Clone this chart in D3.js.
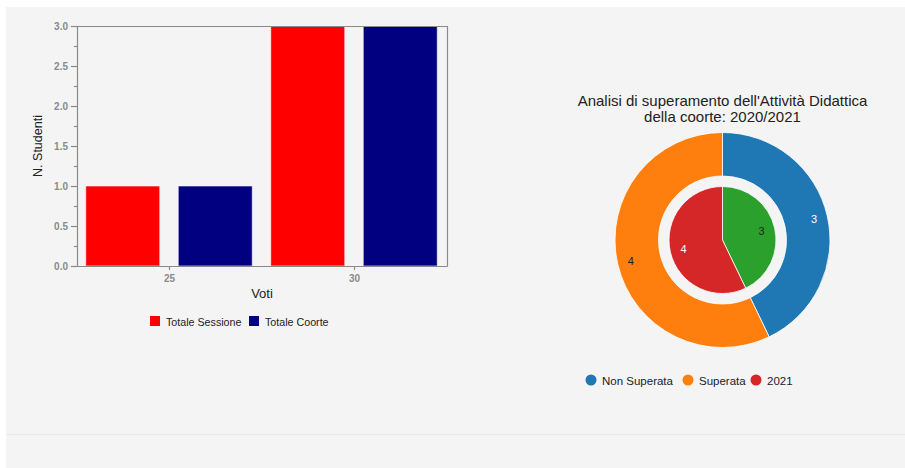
<!DOCTYPE html>
<html>
<head>
<meta charset="utf-8">
<script src="https://cdn.jsdelivr.net/npm/d3@7"></script>
<style>
  html, body { margin: 0; padding: 0; background: #fff; }
  svg { display: block; font-family: "Liberation Sans", Arial, sans-serif; }
</style>
</head>
<body>
<svg id="chart" width="905" height="468"></svg>
<script>
// Grade distribution (bar chart)
const voti = ["25", "30"];
const seriesNames = ["Totale Sessione", "Totale Coorte"];
const seriesColors = ["#ff0000", "#000080"];
const totaleSessione = [1, 3];
const totaleCoorte = [1, 3];
const yTicks = [0, 0.5, 1.0, 1.5, 2.0, 2.5, 3.0];

// Pass analysis (double donut)
const pieTitle = ["Analisi di superamento dell'Attività Didattica", "della coorte: 2020/2021"];
const outerLabels = ["Non Superata", "Superata"];
const outerValues = [3, 4];
const outerColors = ["#1f77b4", "#ff7f0e"];
const outerTextColors = ["#ffffff", "#222222"];
const innerLabels = ["2021 superati", "2021"];
const innerValues = [3, 4];
const innerColors = ["#2ca02c", "#d62728"];
const innerTextColors = ["#222222", "#ffffff"];
const legendItems = ["Non Superata", "Superata", "2021"];
const legendColors = ["#1f77b4", "#ff7f0e", "#d62728"];

const svg = d3.select("#chart");

// page panel
svg.append("rect").attr("x", 6).attr("y", 7).attr("width", 899).attr("height", 461).attr("fill", "#f4f4f4");
svg.append("line").attr("x1", 6).attr("x2", 905).attr("y1", 434.5).attr("y2", 434.5)
  .attr("stroke", "#e9e9e9").attr("stroke-width", 1);

// ---------- bar chart ----------
const plot = { left: 77, right: 447, top: 26, bottom: 266 };
const x0 = d3.scaleBand().domain(voti).range([plot.left, plot.right]).padding(0);
const x1 = d3.scaleBand().domain(seriesNames).range([0, x0.bandwidth()]).paddingInner(0.2).paddingOuter(0.1);
const y = d3.scaleLinear().domain([0, 3]).range([plot.bottom, plot.top]);

const barData = voti.map((v, i) => ({
  voto: v,
  values: [
    { name: seriesNames[0], value: totaleSessione[i], color: seriesColors[0] },
    { name: seriesNames[1], value: totaleCoorte[i], color: seriesColors[1] }
  ]
}));

const bars = svg.append("g");
bars.selectAll("g").data(barData).join("g")
  .attr("transform", d => `translate(${x0(d.voto) - 0.5},0)`)
  .selectAll("rect").data(d => d.values).join("rect")
  .attr("x", d => x1(d.name))
  .attr("y", d => y(d.value))
  .attr("width", x1.bandwidth())
  .attr("height", d => y(0) - y(d.value))
  .attr("fill", d => d.color)
  .attr("stroke", "#ffffff").attr("stroke-opacity", 0.6).attr("stroke-width", 1);

// frame (top and right)
svg.append("path")
  .attr("d", `M${plot.left},${plot.top + 0.5}H${plot.right + 0.5}V${plot.bottom}`)
  .attr("fill", "none").attr("stroke", "#8a8a8a").attr("stroke-width", 1.2);

// y axis with major and minor ticks
svg.append("g").attr("transform", `translate(${plot.left},0)`)
  .call(d3.axisLeft(y).tickValues(yTicks).tickFormat(d3.format(".1f")).tickSize(6).tickPadding(3));
svg.append("g").attr("transform", `translate(${plot.left},0)`)
  .call(d3.axisLeft(y).tickValues(d3.range(0.25, 3, 0.5)).tickFormat("").tickSize(3))
  .call(g => g.select(".domain").remove());

// x axis
svg.append("g").attr("transform", `translate(0,${plot.bottom})`)
  .call(d3.axisBottom(x0).tickSize(4).tickPadding(5).tickSizeOuter(0));

svg.selectAll(".domain, .tick line").attr("stroke", "#8a8a8a").attr("stroke-width", 1.2);
svg.selectAll(".tick text").attr("fill", "#8a8a8a").attr("font-size", 10).attr("font-weight", "bold")
  .attr("font-family", "'Liberation Sans', Arial, sans-serif");
// extend bottom axis across the 0.0 tick
svg.append("line").attr("x1", plot.left - 6).attr("x2", plot.right + 0.5)
  .attr("y1", plot.bottom + 0.5).attr("y2", plot.bottom + 0.5).attr("stroke", "#8a8a8a").attr("stroke-width", 1.2);

// axis titles
svg.append("text").attr("transform", `translate(42,${(plot.top + plot.bottom) / 2}) rotate(-90)`)
  .attr("text-anchor", "middle").attr("font-size", 12.5).attr("fill", "#222").text("N. Studenti");
svg.append("text").attr("x", (plot.left + plot.right) / 2).attr("y", 298)
  .attr("text-anchor", "middle").attr("font-size", 13).attr("fill", "#222").text("Voti");

// bar legend
const barLegend = svg.append("g").attr("transform", "translate(150,316)");
const blItems = barLegend.selectAll("g").data(seriesNames).join("g")
  .attr("transform", (d, i) => `translate(${i * 99},0)`);
blItems.append("rect").attr("width", 10).attr("height", 10).attr("fill", (d, i) => seriesColors[i]);
blItems.append("text").attr("x", 16).attr("y", 9.5).attr("font-size", 10.7).attr("fill", "#222").text(d => d);

// ---------- double donut ----------
const cx = 722.5, cy = 240;
const title = svg.append("text").attr("text-anchor", "middle").attr("font-size", 15).attr("fill", "#222");
pieTitle.forEach((t, i) => title.append("tspan").attr("x", cx).attr("y", 106 + i * 16).text(t));

const pie = d3.pie().sort(null).value(d => d.value);
const outerArc = d3.arc().innerRadius(64).outerRadius(107.5);
const outerLabelArc = d3.arc().innerRadius(94).outerRadius(94);
const innerArc = d3.arc().innerRadius(0).outerRadius(53.5);
const innerLabelArc = d3.arc().innerRadius(40).outerRadius(40);

const outerData = pie(outerLabels.map((l, i) => ({ label: l, value: outerValues[i], color: outerColors[i], text: outerTextColors[i] })));
const innerData = pie(innerLabels.map((l, i) => ({ label: l, value: innerValues[i], color: innerColors[i], text: innerTextColors[i] })));

const donut = svg.append("g").attr("transform", `translate(${cx},${cy})`);
donut.selectAll("path.outer").data(outerData).join("path").attr("class", "outer")
  .attr("d", outerArc).attr("fill", d => d.data.color).attr("stroke", "#fff").attr("stroke-width", 0.8);
donut.selectAll("path.inner").data(innerData).join("path").attr("class", "inner")
  .attr("d", innerArc).attr("fill", d => d.data.color).attr("stroke", "#fff").attr("stroke-width", 0.8);
donut.selectAll("text.outer").data(outerData).join("text").attr("class", "outer")
  .attr("transform", d => `translate(${outerLabelArc.centroid(d)})`)
  .attr("text-anchor", "middle").attr("dy", "0.35em").attr("font-size", 11)
  .attr("fill", d => d.data.text).text(d => d.data.value);
donut.selectAll("text.inner").data(innerData).join("text").attr("class", "inner")
  .attr("transform", d => `translate(${innerLabelArc.centroid(d)})`)
  .attr("text-anchor", "middle").attr("dy", "0.35em").attr("font-size", 11)
  .attr("fill", d => d.data.text).text(d => d.data.value);

// donut legend
const legendX = [591, 688, 756];
const pl = svg.append("g").attr("transform", "translate(0,380)");
const plItems = pl.selectAll("g").data(legendItems).join("g")
  .attr("transform", (d, i) => `translate(${legendX[i]},0)`);
plItems.append("circle").attr("r", 5.5).attr("fill", (d, i) => legendColors[i]);
plItems.append("text").attr("x", 11).attr("y", 4.5).attr("font-size", 11.5).attr("fill", "#222").text(d => d);
</script>
</body>
</html>
